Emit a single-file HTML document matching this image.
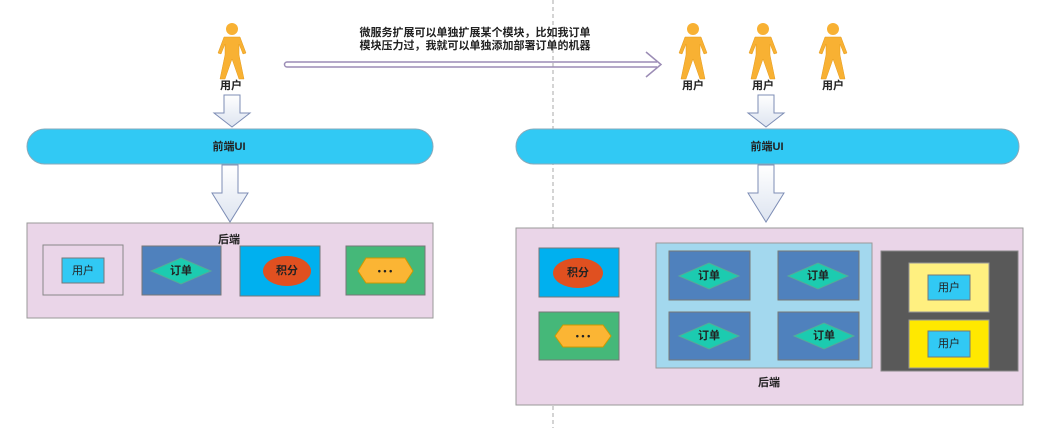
<!DOCTYPE html>
<html><head><meta charset="utf-8"><style>
html,body{margin:0;padding:0;background:#fff;}
svg{display:block;font-family:"Liberation Sans","Noto Sans CJK SC",sans-serif;}
.t{font-size:11px;font-weight:bold;fill:#222;text-anchor:middle;dominant-baseline:central;}
</style></head><body>
<svg width="1064" height="428" viewBox="0 0 1064 428">
<defs>
<linearGradient id="ag" x1="0" y1="0" x2="0" y2="1"><stop offset="0" stop-color="#ffffff"/><stop offset="1" stop-color="#dde4f0"/></linearGradient>
<g id="person">
<circle cx="0" cy="6" r="6" fill="#f8b133"/>
<path d="M-8,14 L8,14 L14,30 L11,31 L7,21 L7,32 L12,56 L7,56 L0,36 L-7,56 L-12,56 L-7,32 L-7,21 L-11,31 L-14,30 Z" fill="#f8b133" stroke="#e59a1a" stroke-width="0.5"/>
</g>
<g id="darrow">
<path d="M-8,0 L8,0 L8,18 L18,18 L0,32 L-18,18 L-8,18 Z" fill="url(#ag)" stroke="#7d8db5" stroke-width="1"/>
</g>
</defs>

<line x1="553" y1="0" x2="553" y2="428" stroke="#aaa" stroke-dasharray="4,3"/>

<!-- Left side -->
<use href="#person" x="232" y="23"/>
<text class="t" x="231" y="86">用户</text>
<use href="#darrow" x="232" y="95"/>
<rect x="27" y="129" width="406" height="35" rx="17.5" fill="#31c9f4" stroke="#8ab"/>
<text class="t" x="229" y="147">前端UI</text>
<path d="M222,165 L238,165 L238,193 L248,193 L230,222 L212,193 L222,193 Z" fill="url(#ag)" stroke="#7d8db5"/>
<rect x="27" y="223" width="406" height="95" fill="#ead5e8" stroke="#999"/>
<text class="t" x="229" y="240">后端</text>
<rect x="43" y="245" width="80" height="50" fill="#ead5e8" stroke="#888"/>
<rect x="62" y="258" width="42" height="25" fill="#31c9f4" stroke="#777"/>
<text class="t" x="83" y="271" style="font-weight:normal">用户</text>
<rect x="142" y="246" width="79" height="49" fill="#4f81bd" stroke="#777"/>
<polygon points="151,271 181,258 211,271 181,284" fill="#1ccbb0" stroke="#5a9"/>
<text class="t" x="181" y="271">订单</text>
<rect x="240" y="246" width="80" height="50" fill="#00b0ef" stroke="#777"/>
<ellipse cx="287" cy="271" rx="24" ry="15" fill="#e05020"/>
<text class="t" x="287" y="271">积分</text>
<rect x="346" y="246" width="79" height="49" fill="#45b879" stroke="#777"/>
<polygon points="358,271 366,258 405,258 413,271 405,283 366,283" fill="#fbb534" stroke="#c90"/>
<text class="t" x="385" y="271" style="font-size:9px">• • •</text>

<!-- Middle arrow -->
<text class="t" x="475" y="33">微服务扩展可以单独扩展某个模块，比如我订单</text>
<text class="t" x="475" y="46">模块压力过，我就可以单独添加部署订单的机器</text>
<path d="M287,62 L657,62 M287,67 L657,67 M287,62 A2.5,2.5 0 0 0 287,67 M646,52 L661,64.5 L646,77" fill="none" stroke="#9b8cb5" stroke-width="1.5"/>

<!-- Right side -->
<use href="#person" x="693" y="23"/>
<use href="#person" x="763" y="23"/>
<use href="#person" x="833" y="23"/>
<text class="t" x="693" y="86">用户</text>
<text class="t" x="763" y="86">用户</text>
<text class="t" x="833" y="86">用户</text>
<use href="#darrow" x="766" y="95"/>
<rect x="516" y="129" width="503" height="35" rx="17.5" fill="#31c9f4" stroke="#8ab"/>
<text class="t" x="767" y="147">前端UI</text>
<path d="M758,165 L774,165 L774,193 L784,193 L766,222 L748,193 L758,193 Z" fill="url(#ag)" stroke="#7d8db5"/>
<rect x="516" y="228" width="507" height="177" fill="#ead5e8" stroke="#999"/>
<rect x="539" y="248" width="80" height="49" fill="#00b0ef" stroke="#777"/>
<ellipse cx="578" cy="273" rx="25" ry="15" fill="#e05020"/>
<text class="t" x="578" y="273">积分</text>
<rect x="539" y="312" width="80" height="48" fill="#45b879" stroke="#777"/>
<polygon points="555,336 563,325 603,325 611,336 603,347 563,347" fill="#fbb534" stroke="#c90"/>
<text class="t" x="583" y="336" style="font-size:9px">• • •</text>
<rect x="656" y="243" width="216" height="125" fill="#a3d8ee" stroke="#999"/>
<g>
<rect x="669" y="251" width="81" height="49" fill="#4f81bd" stroke="#777"/>
<polygon points="679,276 709,263 739,276 709,289" fill="#1ccbb0" stroke="#5a9"/>
<text class="t" x="709" y="276">订单</text>
<rect x="778" y="251" width="81" height="49" fill="#4f81bd" stroke="#777"/>
<polygon points="788,276 818,263 848,276 818,289" fill="#1ccbb0" stroke="#5a9"/>
<text class="t" x="818" y="276">订单</text>
<rect x="669" y="312" width="81" height="48" fill="#4f81bd" stroke="#777"/>
<polygon points="679,336 709,323 739,336 709,349" fill="#1ccbb0" stroke="#5a9"/>
<text class="t" x="709" y="336">订单</text>
<rect x="778" y="312" width="81" height="48" fill="#4f81bd" stroke="#777"/>
<polygon points="794,336 824,323 854,336 824,349" fill="#1ccbb0" stroke="#5a9"/>
<text class="t" x="824" y="336">订单</text>
</g>
<rect x="881" y="251" width="137" height="120" fill="#595959" stroke="#888"/>
<rect x="909" y="263" width="80" height="49" fill="#fff080" stroke="#999"/>
<rect x="928" y="275" width="42" height="25" fill="#31c9f4" stroke="#777"/>
<text class="t" x="949" y="288" style="font-weight:normal">用户</text>
<rect x="909" y="320" width="80" height="48" fill="#ffe800" stroke="#999"/>
<rect x="928" y="331" width="42" height="26" fill="#31c9f4" stroke="#777"/>
<text class="t" x="949" y="344" style="font-weight:normal">用户</text>
<text class="t" x="769" y="383">后端</text>
</svg>
</body></html>
